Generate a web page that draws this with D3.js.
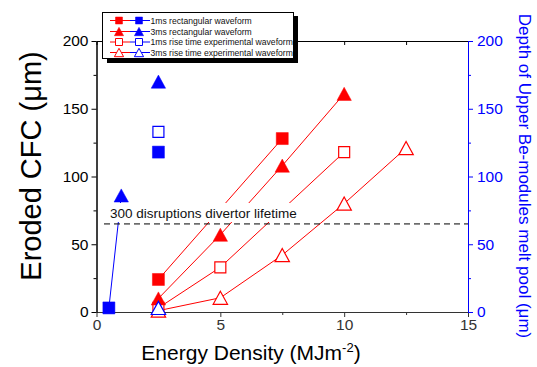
<!DOCTYPE html>
<html>
<head>
<meta charset="utf-8">
<script src="https://cdn.jsdelivr.net/npm/d3@7"></script>
<style>
  body { margin: 0; background: #fff; }
  text { font-family: Arial, "Liberation Sans", sans-serif; }
</style>
</head>
<body>
<svg id="chart" width="537" height="367"></svg>
<script>
// the data (energy density in MJ/m2, erosion / melt depth in um)
const rect1msX = [2.5, 7.5];
const rect1msY = [24, 128];
const rect3msX = [2.5, 5, 7.5, 10];
const rect3msY = [10, 57, 108, 161];
const rise1msX = [2.5, 5, 10];
const rise1msY = [3, 33, 118];
const rise3msX = [2.5, 5, 7.5, 10, 12.5];
const rise3msY = [1, 10.5, 42, 80, 121];

// Be melt pool (right axis)
const beRect1msX = [0.5, 2.5];
const beRect1msY = [3, 118];
const beRect3msX = [1, 2.5];
const beRect3msY = [86, 170];
const beRise1msX = [2.5];
const beRise1msY = [133];
const beRise3msX = [2.5];
const beRise3msY = [3];
const beLineX = [0.5, 1];
const beLineY = [3, 86];

const lifetimeLevel = 65;
const lifetimeLabel = "300 disruptions divertor lifetime";

const legendLabels = ["1ms rectangular waveform", "3ms rectangular waveform",
  "1ms rise time experimental waveform", "3ms rise time experimental waveform"];

const xMajor = [0, 5, 10, 15], xMinor = [2.5, 7.5, 12.5];
const yMajor = [0, 50, 100, 150, 200], yMinor = [25, 75, 125, 175];

// The svg
let svg = d3.select("#chart");

let x = d3.scaleLinear().domain([0, 15]).range([96.5, 468]);
let yL = d3.scaleLinear().domain([0, 200]).range([312, 41]);
let yR = d3.scaleLinear().domain([0, 200]).range([312, 41]);

const RED = "#ff0000", BLUE = "#0000ff";

// marker shapes
function markerPath(kind, s) {
  if (kind === "sq") return `M${-s/2},${-s/2}h${s}v${s}h${-s}Z`;
  let w = s * 1.15, h = s * 1.05;
  return `M0,${-h/2}L${w/2},${h/2}L${-w/2},${h/2}Z`;
}

function drawSeries(xs, ys, y, color, kind, filled, line) {
  let pts = xs.map((v, i) => [x(v), y(ys[i])]);
  if (line) {
    svg.append("path")
      .attr("d", d3.line()(pts))
      .attr("fill", "none")
      .attr("stroke", color)
      .attr("stroke-width", 1);
  }
  return pts;
}

function drawMarkers(pts, color, kind, filled) {
  svg.append("g").selectAll("path")
    .data(pts)
    .enter()
    .append("path")
    .attr("transform", d => `translate(${d[0]},${d[1]})`)
    .attr("d", markerPath(kind, kind === "sq" ? (filled ? 12 : 11) : 12.5))
    .attr("fill", filled ? color : "#fff")
    .attr("stroke", color)
    .attr("stroke-width", filled ? 0.5 : 1.2);
}

// axes
let fs = 15.5;
function styleAxis(g, color) {
  g.selectAll("path.domain").attr("stroke", color);
  g.selectAll("line").attr("stroke", color);
  g.selectAll("text").attr("fill", color).style("font-size", fs + "px");
}

let gb = svg.append("g").attr("transform", "translate(0,312)")
  .call(d3.axisBottom(x).tickValues(xMajor).tickSize(5).tickPadding(2).tickSizeOuter(0));
styleAxis(gb, "#333");
let gbm = svg.append("g").attr("transform", "translate(0,312)")
  .call(d3.axisBottom(x).tickValues(xMinor).tickSize(3).tickFormat("").tickSizeOuter(0));
styleAxis(gbm, "#333");

let gt = svg.append("g").attr("transform", "translate(0,41)")
  .call(d3.axisTop(x).tickValues(xMajor.concat(xMinor)).tickSize(-4).tickFormat("").tickSizeOuter(0));
styleAxis(gt, "#000");

let gl = svg.append("g").attr("transform", "translate(96.5,0)")
  .call(d3.axisLeft(yL).tickValues(yMajor).tickSize(5).tickPadding(3).tickSizeOuter(0));
styleAxis(gl, "#000");
let glm = svg.append("g").attr("transform", "translate(96.5,0)")
  .call(d3.axisLeft(yL).tickValues(yMinor).tickSize(3).tickFormat("").tickSizeOuter(0));
styleAxis(glm, "#000");

let gr = svg.append("g").attr("transform", "translate(468,0)")
  .call(d3.axisRight(yR).tickValues(yMajor).tickSize(5).tickPadding(4).tickSizeOuter(0));
styleAxis(gr, BLUE);
let grm = svg.append("g").attr("transform", "translate(468,0)")
  .call(d3.axisRight(yR).tickValues(yMinor).tickSize(3).tickFormat("").tickSizeOuter(0));
styleAxis(grm, BLUE);

// lines
let p1 = drawSeries(rect1msX, rect1msY, yL, RED, "sq", true, true);
let p2 = drawSeries(rect3msX, rect3msY, yL, RED, "tri", true, true);
let p3 = drawSeries(rise1msX, rise1msY, yL, RED, "sq", false, true);
let p4 = drawSeries(rise3msX, rise3msY, yL, RED, "tri", false, true);
drawSeries(beLineX, beLineY, yR, BLUE, "sq", true, true);
let b1 = drawSeries(beRect1msX, beRect1msY, yR, BLUE, "sq", true, false);
let b2 = drawSeries(beRect3msX, beRect3msY, yR, BLUE, "tri", true, false);
let b3 = drawSeries(beRise1msX, beRise1msY, yR, BLUE, "sq", false, false);
let b4 = drawSeries(beRise3msX, beRise3msY, yR, BLUE, "tri", false, false);

// markers
drawMarkers(p4, RED, "tri", false);
drawMarkers(p3, RED, "sq", false);
drawMarkers(p2, RED, "tri", true);
drawMarkers(p1, RED, "sq", true);
drawMarkers(b4, BLUE, "tri", false);
drawMarkers(b3, BLUE, "sq", false);
drawMarkers(b1, BLUE, "sq", true);
drawMarkers(b2, BLUE, "tri", true);

// lifetime label and dashed line
svg.append("rect")
  .attr("x", 105).attr("y", 203).attr("width", 196).attr("height", 19)
  .attr("fill", "#fff");
svg.append("text")
  .attr("x", 110).attr("y", 218)
  .style("font-size", "13.5px")
  .attr("fill", "#111")
  .text(lifetimeLabel);
svg.append("line")
  .attr("x1", 104).attr("x2", x(15))
  .attr("y1", yL(lifetimeLevel)).attr("y2", yL(lifetimeLevel))
  .attr("stroke", "#000").attr("stroke-width", 1)
  .attr("stroke-dasharray", "6,4");

// axis titles
svg.append("text")
  .attr("transform", "translate(41,166) rotate(-90)")
  .attr("text-anchor", "middle")
  .style("font-size", "29px")
  .text("Eroded CFC (\u03bcm)");

let xt = svg.append("text")
  .attr("x", 251).attr("y", 360)
  .attr("text-anchor", "middle")
  .style("font-size", "21px");
xt.append("tspan").text("Energy Density (MJm");
xt.append("tspan").attr("dy", -8).style("font-size", "13px").text("-2");
xt.append("tspan").attr("dy", 8).text(")");

svg.append("text")
  .attr("transform", "translate(519,176) rotate(90)")
  .attr("text-anchor", "middle")
  .attr("fill", BLUE)
  .style("font-size", "17px")
  .text("Depth of Upper Be-modules melt pool (\u03bcm)");

// legend
let lg = svg.append("g");
lg.append("rect").attr("x", 107).attr("y", 16).attr("width", 191).attr("height", 47).attr("fill", "#000");
lg.append("rect").attr("x", 102.5).attr("y", 12.5).attr("width", 191).attr("height", 46)
  .attr("fill", "#fff").attr("stroke", "#000").attr("stroke-width", 1);

const legendKinds = [["sq", true], ["tri", true], ["sq", false], ["tri", false]];
const rowY = [20.5, 31.5, 42, 52.5];
legendLabels.forEach((lab, i) => {
  let [kind, filled] = legendKinds[i];
  let yy = rowY[i];
  lg.append("line").attr("x1", 110).attr("x2", 130).attr("y1", yy).attr("y2", yy).attr("stroke", RED);
  lg.append("line").attr("x1", 130).attr("x2", 150).attr("y1", yy).attr("y2", yy).attr("stroke", BLUE);
  [[119, RED], [139, BLUE]].forEach(([cx, col]) => {
    lg.append("path")
      .attr("transform", `translate(${cx},${yy})`)
      .attr("d", markerPath(kind, kind === "sq" ? 7 : 8))
      .attr("fill", filled ? col : "#fff")
      .attr("stroke", col)
      .attr("stroke-width", filled ? 0.5 : 1);
  });
  lg.append("text").attr("x", 150.5).attr("y", yy + 3)
    .style("font-size", "8.6px").attr("fill", "#111").text(lab);
});
</script>
</body>
</html>
